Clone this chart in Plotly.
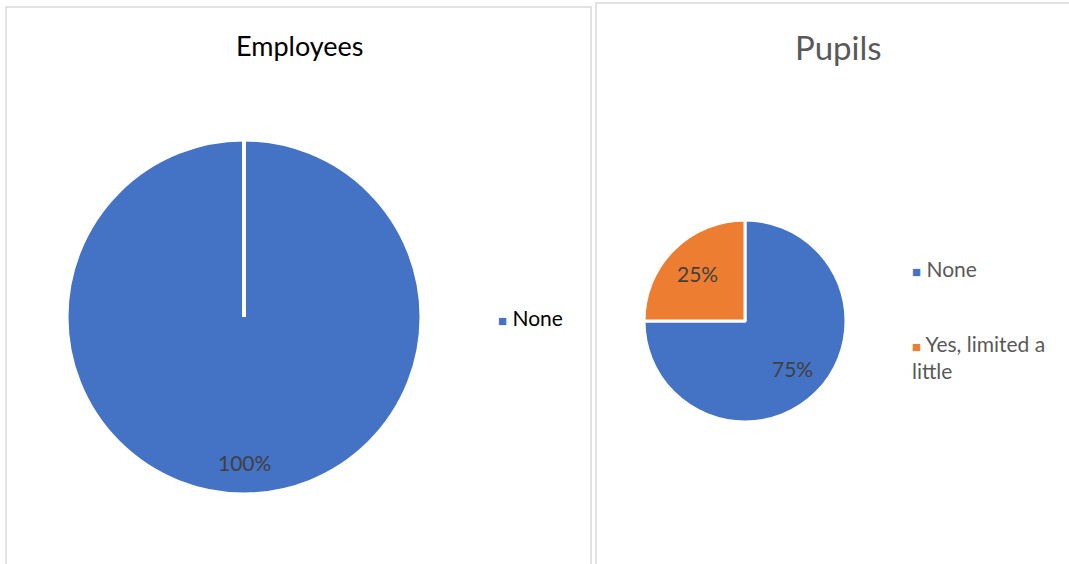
import math
import plotly.graph_objects as go

# data
EMP_LABELS = ["None"]
EMP_VALUES = [100]
PUP_LABELS = ["None", "Yes, limited a<br>little"]
PUP_VALUES = [75, 25]

BLUE = "#4472C4"
ORANGE = "#ED7D31"
COLORS = [BLUE, ORANGE]
FONT = "Lato, 'Open Sans', sans-serif"
W, H = 1069, 564


def px_x(v):
    return v / W


def px_y(v):
    return 1 - v / H


# pie centres / radii in pixels
EMP_C, EMP_R = (244, 317), 177
PUP_C, PUP_R = (745, 321), 101

fig = go.Figure()


def add_pie(labels, values, c, r):
    fig.add_trace(go.Pie(
        labels=labels, values=values, sort=False, direction="clockwise", rotation=0,
        marker=dict(colors=COLORS[:len(values)], line=dict(color="white", width=3)),
        textinfo="none", hoverinfo="label+percent", showlegend=False,
        domain=dict(x=[px_x(c[0] - r), px_x(c[0] + r)],
                    y=[px_y(c[1] + r), px_y(c[1] - r)]),
    ))


add_pie(EMP_LABELS, EMP_VALUES, EMP_C, EMP_R)
add_pie(PUP_LABELS, PUP_VALUES, PUP_C, PUP_R)


def pct_labels(values, c, r, frac):
    total = sum(values)
    start = 0.0
    for v in values:
        mid = (start + v / 2) / total * 2 * math.pi
        start += v
        x = c[0] + frac * r * math.sin(mid)
        y = c[1] - frac * r * math.cos(mid)
        fig.add_annotation(x=px_x(x), y=px_y(y), xref="paper", yref="paper",
                           xanchor="center", yanchor="middle",
                           text=f"{v / total * 100:.0f}%", showarrow=False,
                           font=dict(size=21, color="#404040", family=FONT))


pct_labels(EMP_VALUES, EMP_C, EMP_R, 0.82)
pct_labels(PUP_VALUES, PUP_C, PUP_R, 0.67)


def legend(labels, x, ys, color):
    for lab, col, y in zip(labels, COLORS, ys):
        fig.add_annotation(x=px_x(x), y=px_y(y - 14), xref="paper", yref="paper",
                           xanchor="left", yanchor="top", align="left",
                           text=f"<span style='color:{col};font-size:15px'>■</span> {lab}",
                           showarrow=False,
                           font=dict(size=21, color=color, family=FONT))


legend(EMP_LABELS, 496, [317], "#000000")
legend(PUP_LABELS, 910, [268, 343], "#595959")

# white separator from centre to top for the full slice
fig.add_shape(type="line", xref="paper", yref="paper",
              x0=px_x(EMP_C[0]), x1=px_x(EMP_C[0]),
              y0=px_y(EMP_C[1]), y1=px_y(EMP_C[1] - EMP_R - 1),
              line=dict(color="white", width=4))

# chart frames
fig.add_shape(type="rect", xref="paper", yref="paper",
              x0=px_x(6), x1=px_x(591), y0=-0.05, y1=px_y(7),
              line=dict(color="#D9D9D9", width=1.5))
fig.add_shape(type="rect", xref="paper", yref="paper",
              x0=px_x(596), x1=1.05, y0=-0.05, y1=px_y(3),
              line=dict(color="#D9D9D9", width=1.5))

# titles
fig.add_annotation(x=px_x(300), y=px_y(46), xref="paper", yref="paper",
                   xanchor="center", yanchor="middle",
                   text="Employees", showarrow=False,
                   font=dict(size=27, color="#000000", family=FONT))
fig.add_annotation(x=px_x(838), y=px_y(47), xref="paper", yref="paper",
                   xanchor="center", yanchor="middle",
                   text="Pupils", showarrow=False,
                   font=dict(size=33, color="#595959", family=FONT))

fig.update_layout(width=W, height=H, margin=dict(l=0, r=0, t=0, b=0),
                  paper_bgcolor="white", plot_bgcolor="white",
                  font=dict(family=FONT))

fig.write_html("out.html", config={"displayModeBar": False},
               post_script="document.body.style.margin='0';")
